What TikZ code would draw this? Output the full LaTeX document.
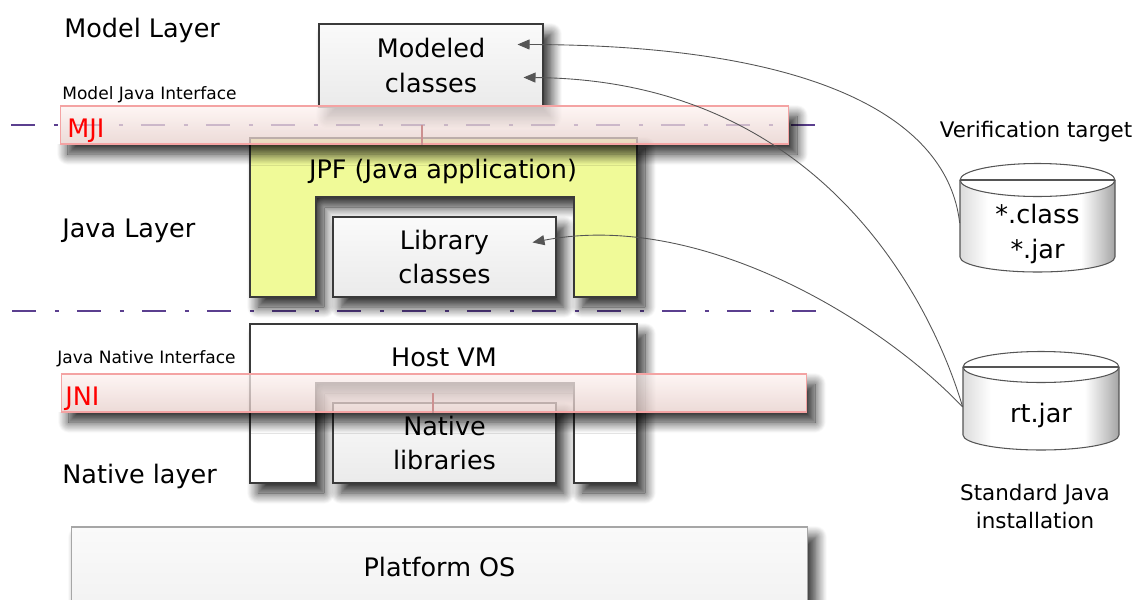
\documentclass[tikz,border=0pt]{standalone}
\usepackage{fontspec}
\setmainfont{DejaVu Sans}
\usetikzlibrary{arrows.meta,shadows.blur,calc}
\definecolor{dashc}{HTML}{5B3F8F}
\definecolor{jpfy}{HTML}{F0FA98}
\definecolor{barb}{HTML}{F4A3A3}
\definecolor{bartop}{HTML}{FDF2F0}
\definecolor{barbot}{HTML}{E6CECA}
\definecolor{conncol}{HTML}{555555}
\definecolor{edge}{HTML}{3A3A3A}
\definecolor{jred}{HTML}{FF0000}
\definecolor{tickc}{HTML}{CC9090}
\pgfdeclarehorizontalshading{cylsh}{100bp}{color(0bp)=(black!14); color(25bp)=(black!14); color(34bp)=(white); color(64bp)=(white); color(71bp)=(black!22); color(75bp)=(black!36); color(100bp)=(black!36)}
\begin{document}
\begin{tikzpicture}[x=0.02cm,y=-0.02cm,
  bigf/.style={font=\fontsize{14.5}{19.4}\selectfont},
  smallf/.style={font=\fontsize{9.7}{12}\selectfont},
  midf/.style={font=\fontsize{12.2}{15.9}\selectfont},
  lbl/.style={inner sep=0pt, anchor=base west},
  shd/.style={blur shadow={shadow xshift=0.16cm, shadow yshift=-0.2cm, shadow blur radius=0.22cm, shadow opacity=85, shadow blur steps=14}},
  box/.style={draw=edge, line width=0.6pt, top color=black!2, bottom color=black!8, shd, bigf, align=center, inner sep=0pt},
  bar/.style={draw=barb, line width=0.6pt, top color=bartop, bottom color=barbot, fill opacity=0.75, inner sep=0pt},
  layerline/.style={dashc, line width=0.9pt, dash pattern=on 0.48cm off 0.38cm on 0.08cm off 0.36cm},
  connarrow/.style={conncol, line width=0.5pt, -{Triangle[length=0.24cm,width=0.2cm]}},
  cylshade/.style={shading=cylsh},
  cyledge/.style={draw=conncol, line width=0.6pt}
]
\useasboundingbox (0,0) rectangle (1137,599);
\clip (0,0) rectangle (1137,599);

% platform
\node[draw=black!35, line width=0.6pt, top color=black!2, bottom color=black!5, shd, bigf, inner sep=0pt,
      minimum width=14.74cm, minimum height=1.6cm] (os) at (439.5,567) {Platform OS};

% layer separators
\draw[layerline] (11,125) -- (828,125);
\draw[layerline] (12,311) -- (828,311);

% model layer
\node[box, minimum width=4.48cm, minimum height=1.66cm] (mc) at (431,65.5) {Modeled\\classes};

% JPF
\path[draw=edge, line width=0.6pt, fill=jpfy, shd]
  (250,138) -- (637,138) -- (637,297) -- (574,297) -- (574,197) -- (316,197) -- (316,297) -- (250,297) -- cycle;
\node[bigf, inner sep=0pt, anchor=base] (jpf) at (443,178) {JPF (Java application)};
\node[box, minimum width=4.46cm, minimum height=1.6cm] (lc) at (444.5,257) {Library\\classes};

% Host VM
\path[draw=edge, line width=0.6pt, fill=white, shd]
  (250,324) -- (637,324) -- (637,483) -- (574,483) -- (574,383) -- (316,383) -- (316,483) -- (250,483) -- cycle;
\node[bigf, inner sep=0pt, anchor=base] (hvm) at (444,366) {Host VM};
\node[box, minimum width=4.46cm, minimum height=1.6cm] (nl) at (444.5,443) {Native\\libraries};

% shadows of the interface bars, kept outside the bars
\begin{scope}
  \clip (0,144) -- (789,144) -- (789,100) -- (1137,100) -- (1137,300) -- (0,300) -- cycle;
  \path[shd] (60,106) rectangle (789,144);
\end{scope}
\begin{scope}
  \clip (0,412) -- (807,412) -- (807,370) -- (1137,370) -- (1137,520) -- (0,520) -- cycle;
  \path[shd] (61,374) rectangle (807,412);
\end{scope}

% interface bars
\node[bar, minimum width=14.58cm, minimum height=0.76cm] (mjibar) at (424.5,125) {};
\node[bar, minimum width=14.92cm, minimum height=0.76cm] (jnibar) at (434,393) {};
\draw[tickc, line width=0.6pt] (422,125) -- (mjibar.south -| 422,0);
\draw[tickc, line width=0.6pt] (433,393) -- (jnibar.south -| 433,0);

% labels
\node[lbl, bigf] (ml) at (64,37) {Model Layer};
\node[lbl, smallf] (mji) at (62,99) {Model Java Interface};
\node[lbl, bigf, text=jred] (mjit) at (67,137) {MJI};
\node[lbl, bigf] (jl) at (62,237) {Java Layer};
\node[lbl, smallf] (jni) at (57,363) {Java Native Interface};
\node[lbl, bigf, text=jred] (jnit) at (65,405) {JNI};
\node[lbl, bigf] (nll) at (62,483) {Native layer};

% verification target cylinder
\path[cylshade] (960,180) -- (960,257) arc[start angle=180, end angle=360, x radius=1.55cm, y radius=0.3cm]
  -- (1115,180) arc[start angle=0, end angle=180, x radius=1.55cm, y radius=0.33cm] -- cycle;
\draw[cyledge] (960,180) -- (960,257) arc[start angle=180, end angle=360, x radius=1.55cm, y radius=0.3cm] -- (1115,180);
\draw[cyledge, fill=white] (1037.5,180) ellipse[x radius=1.55cm, y radius=0.33cm];
\draw[cyledge] (960,180) -- (1115,180);
\node[bigf, align=center, inner sep=0pt, minimum width=3.1cm] (vt) at (1037.5,234) {*.class\\*.jar};
\node[midf, inner sep=0pt, anchor=base] (vtl) at (1036,137) {Verification target};

% rt.jar cylinder
\path[cylshade] (963,367) -- (963,435) arc[start angle=180, end angle=360, x radius=1.56cm, y radius=0.3cm]
  -- (1119,367) arc[start angle=0, end angle=180, x radius=1.56cm, y radius=0.31cm] -- cycle;
\draw[cyledge] (963,367) -- (963,435) arc[start angle=180, end angle=360, x radius=1.56cm, y radius=0.3cm] -- (1119,367);
\draw[cyledge, fill=white] (1041,367) ellipse[x radius=1.56cm, y radius=0.31cm];
\draw[cyledge] (963,367) -- (1119,367);
\node[bigf, inner sep=0pt, minimum width=3.12cm] (rt) at (1041,415) {rt.jar};
\node[midf, align=center, inner sep=0pt, anchor=base] (rtl) at (1035,528) {Standard Java\\installation};

% connectors
\coordinate (mcin1) at ($(mc.north east)+(-26,21)$);
\coordinate (mcin2) at ($(mc.north east)+(-20,54)$);
\coordinate (lcin) at ($(lc.north east)+(-24,26)$);
\draw[connarrow] ($(vt.west)+(0,-11)$) .. controls (948,120) and (820,45) .. (mcin1);
\draw[connarrow] ($(rt.west)+(0,-8)$) .. controls (940,330) and (840,80) .. (mcin2);
\draw[connarrow] ($(rt.west)+(0,-8)$) .. controls (880,320) and (700,210) .. (lcin);
\end{tikzpicture}
\end{document}
